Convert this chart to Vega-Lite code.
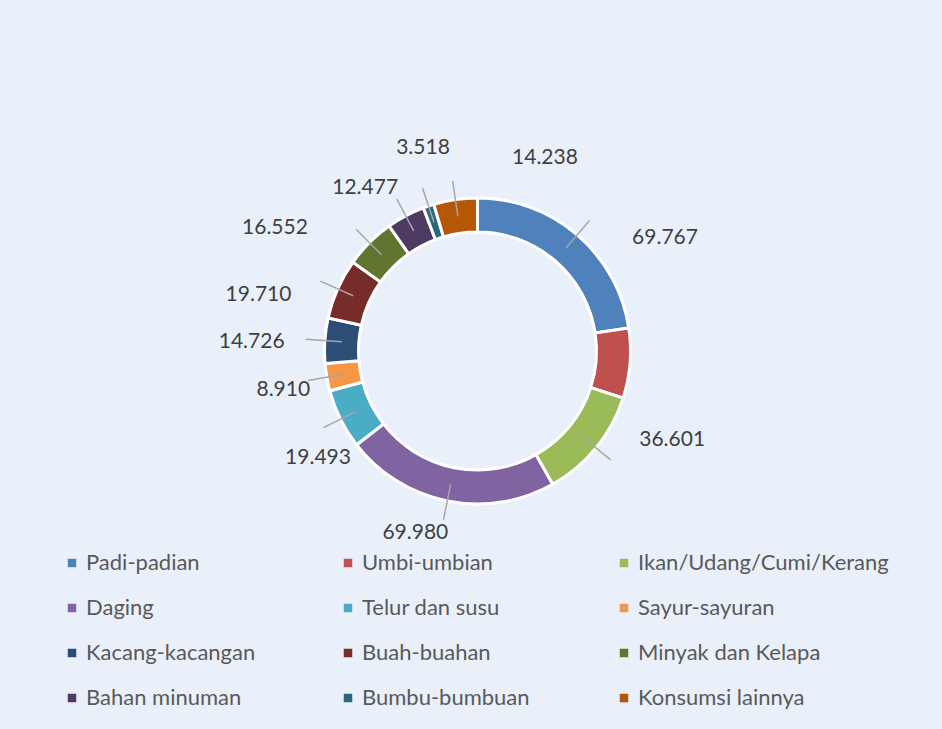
{
  "$schema": "https://vega.github.io/schema/vega-lite/v6.json",
  "width": 942,
  "height": 729,
  "autosize": {"type": "fit", "contains": "padding"},
  "padding": {"left": 13, "top": 2, "right": 0, "bottom": 29},
  "background": "#eaf0fa",
  "config": {
    "view": {"stroke": null},
    "font": "Lato",
    "text": {"font": "Lato", "fontSize": 21, "color": "#404040"},
    "locale": {"number": {"decimal": ",", "thousands": ".", "grouping": [3], "currency": ["Rp", ""]}}
  },
  "data": {
    "values": [
      {"kategori": "Padi-padian", "nilai": 69767, "urutan": 1},
      {"kategori": "Umbi-umbian", "nilai": 22800, "urutan": 2},
      {"kategori": "Ikan/Udang/Cumi/Kerang", "nilai": 36601, "urutan": 3},
      {"kategori": "Daging", "nilai": 69980, "urutan": 4},
      {"kategori": "Telur dan susu", "nilai": 19493, "urutan": 5},
      {"kategori": "Sayur-sayuran", "nilai": 8910, "urutan": 6},
      {"kategori": "Kacang-kacangan", "nilai": 14726, "urutan": 7},
      {"kategori": "Buah-buahan", "nilai": 19710, "urutan": 8},
      {"kategori": "Minyak dan Kelapa", "nilai": 16552, "urutan": 9},
      {"kategori": "Bahan minuman", "nilai": 12477, "urutan": 10},
      {"kategori": "Bumbu-bumbuan", "nilai": 3518, "urutan": 11},
      {"kategori": "Konsumsi lainnya", "nilai": 14238, "urutan": 12}
    ]
  },
  "encoding": {
    "theta": {"field": "nilai", "type": "quantitative", "stack": true},
    "order": {"field": "urutan", "type": "quantitative"}
  },
  "layer": [
    {
      "mark": {"type": "arc", "radius": 153, "radius2": 119, "stroke": "white", "strokeWidth": 3},
      "encoding": {
        "color": {
          "field": "kategori",
          "type": "nominal",
          "scale": {
            "domain": ["Padi-padian", "Umbi-umbian", "Ikan/Udang/Cumi/Kerang", "Daging", "Telur dan susu", "Sayur-sayuran", "Kacang-kacangan", "Buah-buahan", "Minyak dan Kelapa", "Bahan minuman", "Bumbu-bumbuan", "Konsumsi lainnya"],
            "range": ["#4F81BD", "#C0504D", "#9BBB59", "#8064A2", "#4BACC6", "#F79646", "#2C4D75", "#772C2A", "#5F7530", "#4D3B62", "#276A7C", "#B65708"]
          },
          "legend": {
            "title": null,
            "orient": "none",
            "legendX": 48,
            "legendY": 550,
            "direction": "horizontal",
            "columns": 3,
            "gridAlign": "all",
            "columnPadding": 0,
            "rowPadding": 23,
            "padding": 0,
            "symbolType": "square",
            "symbolSize": 72,
            "symbolStrokeWidth": 0,
            "labelOffset": 3,
            "labelFont": "Lato",
            "labelFontSize": 22,
            "labelColor": "#595959",
            "labelLimit": 400
          }
        }
      }
    },
    {
      "mark": {"type": "arc", "radius": 172, "radius2": 136, "padAngle": 3.5, "stroke": "#a6a6a6", "strokeWidth": 1.5, "fillOpacity": 0},
      "encoding": {
        "strokeOpacity": {"condition": {"test": "datum.kategori === 'Umbi-umbian'", "value": 0}, "value": 1}
      }
    },
    {
      "mark": {"type": "text", "radius": 219, "thetaOffset": 0.318},
      "encoding": {"text": {"condition": {"test": "datum.kategori !== 'Padi-padian'", "value": ""}, "field": "nilai", "type": "quantitative", "format": ",d"}}
    },
    {
      "mark": {"type": "text", "radius": 214, "thetaOffset": -0.257},
      "encoding": {"text": {"condition": {"test": "datum.kategori !== 'Ikan/Udang/Cumi/Kerang'", "value": ""}, "field": "nilai", "type": "quantitative", "format": ",d"}}
    },
    {
      "mark": {"type": "text", "radius": 192, "thetaOffset": 0.131},
      "encoding": {"text": {"condition": {"test": "datum.kategori !== 'Daging'", "value": ""}, "field": "nilai", "type": "quantitative", "format": ",d"}}
    },
    {
      "mark": {"type": "text", "radius": 192, "thetaOffset": -0.129},
      "encoding": {"text": {"condition": {"test": "datum.kategori !== 'Telur dan susu'", "value": ""}, "field": "nilai", "type": "quantitative", "format": ",d"}}
    },
    {
      "mark": {"type": "text", "radius": 198, "thetaOffset": -0.024},
      "encoding": {"text": {"condition": {"test": "datum.kategori !== 'Sayur-sayuran'", "value": ""}, "field": "nilai", "type": "quantitative", "format": ",d"}}
    },
    {
      "mark": {"type": "text", "radius": 226, "thetaOffset": -0.028},
      "encoding": {"text": {"condition": {"test": "datum.kategori !== 'Kacang-kacangan'", "value": ""}, "field": "nilai", "type": "quantitative", "format": ",d"}}
    },
    {
      "mark": {"type": "text", "radius": 226, "thetaOffset": -0.169},
      "encoding": {"text": {"condition": {"test": "datum.kategori !== 'Buah-buahan'", "value": ""}, "field": "nilai", "type": "quantitative", "format": ",d"}}
    },
    {
      "mark": {"type": "text", "radius": 237, "thetaOffset": -0.241},
      "encoding": {"text": {"condition": {"test": "datum.kategori !== 'Minyak dan Kelapa'", "value": ""}, "field": "nilai", "type": "quantitative", "format": ",d"}}
    },
    {
      "mark": {"type": "text", "radius": 198, "thetaOffset": -0.115},
      "encoding": {"text": {"condition": {"test": "datum.kategori !== 'Bahan minuman'", "value": ""}, "field": "nilai", "type": "quantitative", "format": ",d"}}
    },
    {
      "mark": {"type": "text", "radius": 210, "thetaOffset": 0.063},
      "encoding": {"text": {"condition": {"test": "datum.kategori !== 'Bumbu-bumbuan'", "value": ""}, "field": "nilai", "type": "quantitative", "format": ",d"}}
    },
    {
      "mark": {"type": "text", "radius": 204, "thetaOffset": 0.482},
      "encoding": {"text": {"condition": {"test": "datum.kategori !== 'Konsumsi lainnya'", "value": ""}, "field": "nilai", "type": "quantitative", "format": ",d"}}
    }
  ]
}
